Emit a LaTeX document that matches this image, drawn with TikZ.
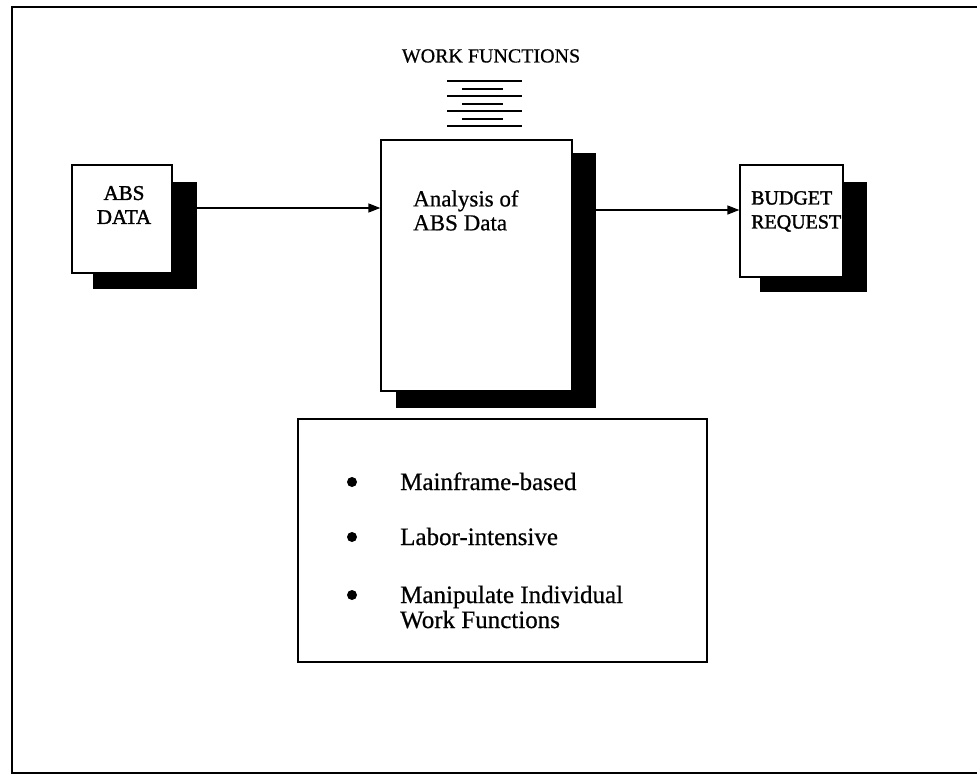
\documentclass[tikz,border=0pt]{standalone}
\usepackage{fontspec}
\setmainfont{Liberation Serif}[FakeBold=0.6]
\newfontfamily\heavyface{Liberation Serif}[FakeBold=1.6]
\usetikzlibrary{arrows.meta,calc}
\tikzset{
  frame/.style={line width=2.4pt},
  panel/.style={draw, line width=1.3pt, fill=white, inner sep=0pt},
  shade/.style={fill=black},
  flow/.style={line width=1.4pt, -{Triangle[length=12pt,width=9pt]}},
  rule/.style={line width=2pt},
  boxtext/.style={font=\heavyface\fontsize{21}{24}\selectfont, align=left, inner sep=0pt},
  listtext/.style={font=\fontsize{25}{26}\selectfont, anchor=base west, inner sep=0pt},
  dot/.style={circle, fill=black, minimum size=10pt, inner sep=0pt}
}
\begin{document}
\begin{tikzpicture}[x=1pt, y=-1pt]
\useasboundingbox (0,0) rectangle (977,776);

% outer frame (open on the right)
\draw[frame] (990,7) -- (12,7) -- (12,773) -- (990,773);

% heading and its stack of rules
\node[font=\fontsize{20}{22}\selectfont, inner sep=0pt] (wf) at (491,56) {WORK FUNCTIONS};
\foreach \i in {0,...,6}{
  \pgfmathsetmacro{\yy}{81+7.5*\i}
  \ifodd\i
    \draw[rule] (462,\yy) -- (503,\yy);
  \else
    \draw[rule] (447,\yy) -- (522,\yy);
  \fi
}

% input box
\fill[shade] (93,182) rectangle (197,289);
\node[panel, minimum width=100pt, minimum height=108pt] (abs) at (122,219) {};
\node[boxtext, align=center] (abst) at (124,205) {ABS\\DATA};

% analysis box
\fill[shade] (396,153) rectangle (596,408);
\node[panel, minimum width=191pt, minimum height=251pt] (ana) at (476.5,265.5) {};
\node[boxtext, anchor=north west, font=\fontsize{23}{24}\selectfont] (anat) at (413,190) {Analysis of\\ABS Data};

% output box
\fill[shade] (760,182) rectangle (867,292);
\node[panel, minimum width=103pt, minimum height=112pt] (bud) at (791.5,221) {};
\node[boxtext, anchor=north west, font=\heavyface\fontsize{20}{24}\selectfont] (budt) at (751,191) {BUDGET\\REQUEST};

% connectors
\coordinate (absout) at (197,208);
\coordinate (anain) at (ana.west |- absout);
\draw[flow] (absout) -- (anain);
\coordinate (anaout) at (596,210);
\coordinate (budin) at (bud.west |- anaout);
\draw[flow] (anaout) -- (budin);

% characteristics list
\node[panel, minimum width=409pt, minimum height=243pt] (list) at (502.5,540.5) {};
\node[dot] (d1) at (352,482) {};
\node[dot] (d2) at (352,537) {};
\node[dot] (d3) at (352,595) {};
\node[listtext] (l1) at (400,490) {Mainframe-based};
\node[listtext] (l2) at (400,545) {Labor-intensive};
\node[listtext] (l3) at (400,603) {Manipulate Individual};
\node[listtext] (l3b) at (400,628) {Work Functions};
\end{tikzpicture}
\end{document}
